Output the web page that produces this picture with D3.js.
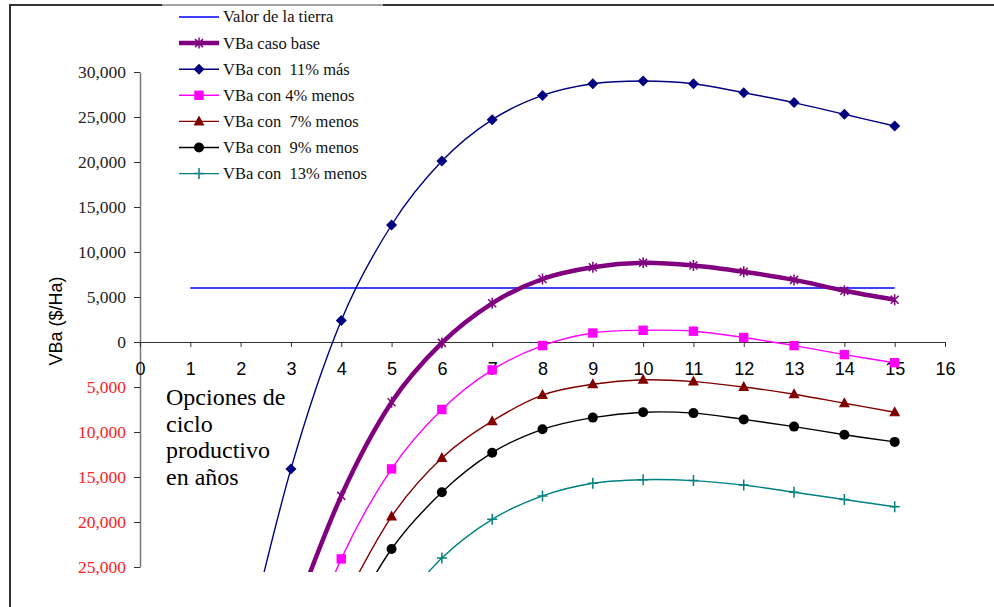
<!DOCTYPE html>
<html>
<head>
<meta charset="utf-8">
<script src="https://cdn.jsdelivr.net/npm/d3@7"></script>
<style>
  body { margin: 0; background: #fff; }
  svg { display: block; }
  text { white-space: pre; }
</style>
</head>
<body>
<div id="chart"></div>
<script>
const width = 994, height = 607;

// años del ciclo productivo
const years = [1, 2, 3, 4, 5, 6, 7, 8, 9, 10, 11, 12, 13, 14, 15];

// VBa ($/Ha) por año, null = fuera de la gráfica
const valorTierra = [6000, 6000, 6000, 6000, 6000, 6000, 6000, 6000, 6000, 6000, 6000, 6000, 6000, 6000, 6000];
const casoBase = [null, null, -31300, -17100, -6700, -100, 4300, 7000, 8300, 8800, 8500, 7800, 6900, 5700, 4700];
const mas11 = [null, -36500, -14100, 2400, 13000, 20100, 24700, 27400, 28700, 29000, 28700, 27700, 26600, 25300, 24000];
const menos4 = [null, null, -38500, -24100, -14100, -7500, -3100, -400, 1000, 1300, 1200, 500, -400, -1400, -2300];
const menos7 = [null, null, null, -29400, -19400, -12900, -8800, -5900, -4700, -4200, -4400, -5000, -5800, -6800, -7800];
const menos9 = [null, null, null, -32500, -23000, -16700, -12300, -9700, -8400, -7800, -7900, -8600, -9400, -10300, -11100];
const menos13 = [null, null, null, null, -30500, -24000, -19700, -17100, -15700, -15300, -15400, -15900, -16700, -17500, -18300];

const xTicks = [0, 1, 2, 3, 4, 5, 6, 7, 8, 9, 10, 11, 12, 13, 14, 15, 16];
const yTicks = [-25000, -20000, -15000, -10000, -5000, 0, 5000, 10000, 15000, 20000, 25000, 30000];

const series = [
    { name: "Valor de la tierra", values: valorTierra, color: "#0000ff", width: 1.4, marker: null, smooth: false },
    { name: "VBa caso base", values: casoBase, color: "#800080", width: 4.5, marker: "star" },
    { name: "VBa con  11% más", values: mas11, color: "#000080", width: 1.4, marker: "diamond" },
    { name: "VBa con 4% menos", values: menos4, color: "#ff00ff", width: 1.4, marker: "square" },
    { name: "VBa con  7% menos", values: menos7, color: "#800000", width: 1.4, marker: "triangle" },
    { name: "VBa con  9% menos", values: menos9, color: "#000000", width: 1.4, marker: "circle" },
    { name: "VBa con  13% menos", values: menos13, color: "#008080", width: 1.4, marker: "plus" }
];

const x = d3.scaleLinear([0, 16], [140, 945]);
const y = d3.scaleLinear([-25000, 30000], [567, 72]);

const svg = d3.select("#chart").append("svg")
    .attr("width", width)
    .attr("height", height)
    .attr("viewBox", [0, 0, width, height]);

// marco exterior
svg.append("path")
    .attr("d", `M10,${height}V5H${width}`)
    .attr("fill", "none")
    .attr("stroke", "#333")
    .attr("stroke-width", 2);

svg.append("defs").append("clipPath")
    .attr("id", "plot-clip")
    .append("rect")
    .attr("x", x(0))
    .attr("y", 0)
    .attr("width", x(16) - x(0))
    .attr("height", 572);

// ejes
const yAxis = svg.append("g")
    .attr("transform", `translate(${x(0)},0)`)
    .call(d3.axisLeft(y)
        .tickValues(yTicks)
        .tickSize(6)
        .tickSizeOuter(0)
        .tickPadding(8)
        .tickFormat(d => d3.format(",")(Math.abs(d))));

yAxis.attr("font-family", null);
yAxis.select(".domain").attr("stroke", "#777").attr("stroke-width", 1.5);
yAxis.selectAll(".tick line").attr("stroke", "#333");
yAxis.selectAll(".tick text")
    .attr("font-family", "'Liberation Serif', 'Times New Roman', serif")
    .attr("font-size", 17.5)
    .attr("fill", d => d < 0 ? "#ff2020" : "#222");

const xAxis = svg.append("g")
    .attr("transform", `translate(0,${y(0)})`)
    .call(d3.axisBottom(x)
        .tickValues(xTicks)
        .tickSize(5)
        .tickSizeOuter(0)
        .tickPadding(15));

xAxis.select(".domain").attr("stroke", "#333").attr("stroke-width", 1.2);
xAxis.selectAll(".tick line").attr("stroke", "#333");
xAxis.selectAll(".tick text")
    .attr("font-family", "'Liberation Sans', Arial, sans-serif")
    .attr("font-size", 18)
    .attr("fill", "#000");

svg.append("text")
    .attr("transform", "translate(62,321) rotate(-90)")
    .attr("text-anchor", "middle")
    .attr("font-family", "'Liberation Sans', Arial, sans-serif")
    .attr("font-size", 18)
    .text("VBa ($/Ha)");

// nota dentro del área
const nota = ["Opciones de", "ciclo", "productivo", "en años"];
svg.append("g").selectAll("text")
    .data(nota)
    .join("text")
        .attr("x", 166)
        .attr("y", (d, i) => 405 + i * 26.7)
        .attr("font-family", "'Liberation Serif', 'Times New Roman', serif")
        .attr("font-size", 24)
        .text(d => d);

// marcadores
const markerPath = (type) => {
    switch (type) {
        case "diamond": return "M0,-5.5L5.5,0L0,5.5L-5.5,0Z";
        case "square": return "M-4.7,-4.7H4.7V4.7H-4.7Z";
        case "triangle": return "M0,-6L5.5,4H-5.5Z";
        case "star": return "M-4,-4L4,4M-4,4L4,-4M0,-5.5V5.5";
        case "plus": return "M-5,0H5M0,-5.5V5.5";
        default: return null;
    }
};

const drawMarker = (sel, s) => {
    if (!s.marker) return;
    if (s.marker === "circle") {
        sel.append("circle").attr("r", 5).attr("fill", s.color);
    } else if (s.marker === "star" || s.marker === "plus") {
        sel.append("path")
            .attr("d", markerPath(s.marker))
            .attr("fill", "none")
            .attr("stroke", s.color)
            .attr("stroke-width", 1.5);
    } else {
        sel.append("path").attr("d", markerPath(s.marker)).attr("fill", s.color);
    }
};

const plot = svg.append("g").attr("clip-path", "url(#plot-clip)");

series.forEach(s => {
    const pts = years.map((yr, i) => ({ yr, v: s.values[i] })).filter(d => d.v != null);
    const line = d3.line()
        .x(d => x(d.yr))
        .y(d => y(d.v))
        .curve(s.smooth === false ? d3.curveLinear : d3.curveCardinal.tension(0));

    const g = plot.append("g");
    g.append("path")
        .datum(pts)
        .attr("fill", "none")
        .attr("stroke", s.color)
        .attr("stroke-width", s.width)
        .attr("stroke-linejoin", "round")
        .attr("d", line);

    g.selectAll("g")
        .data(pts.filter(d => y(d.v) < 575))
        .join("g")
            .attr("transform", d => `translate(${x(d.yr)},${y(d.v)})`)
            .each(function() { drawMarker(d3.select(this), s); });
});

// leyenda
const legend = svg.append("g");
legend.append("rect")
    .attr("x", 162)
    .attr("y", 0)
    .attr("width", 221)
    .attr("height", 188)
    .attr("fill", "#fff")
    .attr("opacity", 0.55);

const item = legend.selectAll("g")
    .data(series)
    .join("g")
        .attr("transform", (d, i) => `translate(0,${17 + i * 26.1})`);

item.append("line")
    .attr("x1", 179)
    .attr("x2", 219)
    .attr("stroke", d => d.color)
    .attr("stroke-width", d => d.width);

item.each(function(d) {
    drawMarker(d3.select(this).append("g").attr("transform", "translate(199,0)"), d);
});

item.append("text")
    .attr("x", 223)
    .attr("dy", "0.33em")
    .attr("font-family", "'Liberation Serif', 'Times New Roman', serif")
    .attr("font-size", 16.5)
    .attr("fill", "#111")
    .text(d => d.name);
</script>
</body>
</html>
